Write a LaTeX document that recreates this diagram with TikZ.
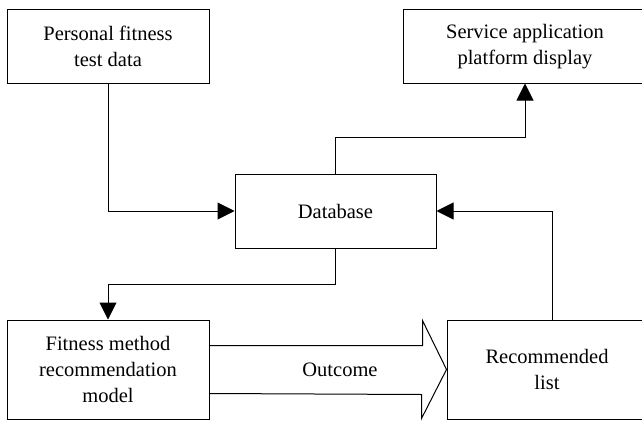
\documentclass[tikz,border=0pt]{standalone}
\usepackage{fontspec}
\setmainfont{Liberation Serif}
\usetikzlibrary{arrows.meta}
\tikzset{box/.style={draw,line width=1pt,align=center,inner sep=0pt,
                     font=\fontsize{20.5}{26}\selectfont},
         link/.style={line width=1pt,-{Triangle[length=17pt,width=17pt]}}}

\begin{document}
\begin{tikzpicture}[x=1pt,y=-1pt]
                \useasboundingbox (0,0) rectangle (642,420);
                \node[box,minimum width=202pt,minimum height=73pt] (pdata) at (108,46.5) {Personal fitness\\test data};
                \node[box,minimum width=244pt,minimum height=73pt] (sdisp) at (525,46.5) {Service application\\platform display\hspace{10pt}};
                \node[box,minimum width=201pt,minimum height=74pt] (db) at (335.5,211) {Database};
                \node[box,minimum width=202pt,minimum height=99pt] (fmodel) at (108,369.5) {Fitness method\\recommendation\\model};
                \node[box,minimum width=200pt,minimum height=99pt] (rlist) at (547,369.5) {Recommended\\list\hspace{4pt}};
                    \draw[link] (pdata.south) |- (db.west);
                    \draw[link] (db.north) -- ++(0,-36) -| (sdisp.south);
                    \draw[link] ([xshift=5pt]rlist.north) |- (db.east);
                    \draw[link] (db.south) -- ++(0,36) -| (fmodel.north);
                    % outcome arrow
                    \draw[line width=1pt,line join=miter] ([yshift=24pt]fmodel.east) -- ++(213,0) -- ++(0,-25)
                        -- (rlist.west) -- ([xshift=-25pt,yshift=-49pt]rlist.west) -- ++(0,-24) -- ([yshift=-24pt]fmodel.east);
                    \node[font=\fontsize{20.5}{26}\selectfont] (outc) at (340,370) {Outcome};
                \end{tikzpicture}
\end{document}
